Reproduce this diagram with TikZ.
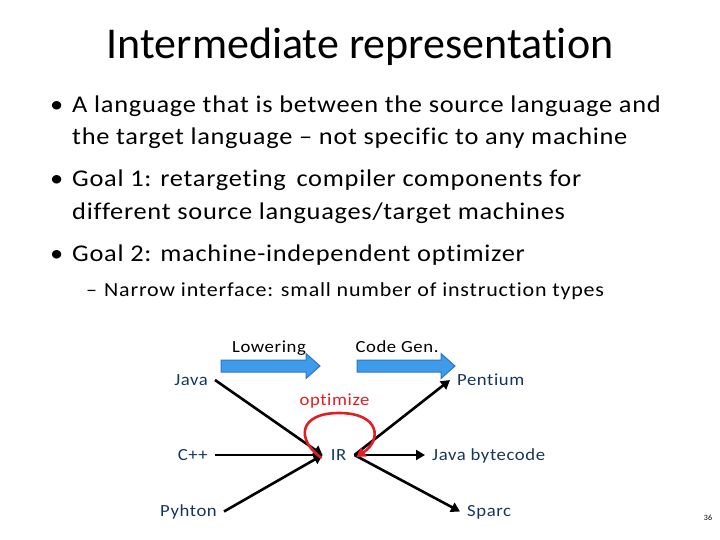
\documentclass[tikz,border=0pt]{standalone}
\usepackage{fontspec}
\setmainfont{Carlito}[Ligatures=NoCommon]
\newfontfamily\fbul{Carlito}[FakeStretch=1.1,LetterSpace=3,Ligatures=NoCommon]
\newfontfamily\fsub{Carlito}[FakeStretch=1.1,LetterSpace=4,Ligatures=NoCommon]
\newfontfamily\flab{Carlito}[FakeStretch=1.1,LetterSpace=3.5,Ligatures=NoCommon]
\usetikzlibrary{arrows.meta}
\definecolor{lbl}{RGB}{23,54,93}
\definecolor{loopred}{RGB}{226,30,36}
\definecolor{arrfill}{RGB}{61,155,233}
\definecolor{arrline}{RGB}{46,117,200}
\begin{document}
\begin{tikzpicture}[x=1pt,y=-1pt,
  bul/.style={anchor=base west,inner sep=0pt,font=\fbul\fontsize{24}{28}\selectfont},
  sub/.style={anchor=base west,inner sep=0pt,font=\fsub\fontsize{20}{24}\selectfont},
  lab/.style={inner ysep=0pt,inner xsep=7pt,text height=10.9pt,text depth=0pt,font=\flab\fontsize{17}{20}\selectfont,text=lbl},
  conn/.style={line width=2.6pt,-{Triangle[length=9pt,width=10pt]}},
  blk/.style={fill=arrfill,draw=arrline,line width=1pt}]
\useasboundingbox (0,0) rectangle (720,540);
\node[font=\fontsize{44}{52}\selectfont] (title) at (360,47) {Intermediate representation};
% bullets
\node[bul] (b1) at (50,113) {•};
\node[bul] (t1) at (72,113) {A language that is between the source language and};
\node[bul] (t1b) at (72,145) {the target language – not specific to any machine};
\node[bul] (b2) at (50,187) {•};
\node[bul] (t2) at (72,187) {Goal 1: retargeting\, compiler components for};
\node[bul] (t2b) at (72,219) {different source languages/target machines};
\node[bul] (b3) at (50,261) {•};
\node[bul] (t3) at (72,261) {Goal 2: machine-independent optimizer};
\node[sub] (d1) at (86,296) {–};
\node[sub] (s1) at (104,296) {Narrow interface: small number of instruction types};
% diagram labels
\node[lab,text=black,anchor=base] (lower) at (269,352) {Lowering};
\node[lab,text=black,anchor=base] (cgen) at (397,352) {Code Gen.};
\node[lab,text=loopred,anchor=base] (opt) at (334.5,405) {optimize};
\node[lab,anchor=east] (java) at (215,380) {Java};
\node[lab,anchor=east] (cpp) at (215,455) {C++};
\node[lab,anchor=east] (py) at (224,511.5) {Pyhton};
\node[lab,inner xsep=8pt] (ir) at (338.5,455) {IR};
\node[lab,anchor=west] (pent) at (450,380) {Pentium};
\node[lab,anchor=west] (jbc) at (425,455) {Java bytecode};
\node[lab,anchor=west] (sparc) at (460,511.5) {Sparc};
\node[font=\fontsize{8}{9}\selectfont,anchor=base] (pg) at (708,520) {36};
% block arrows
\draw[blk] (221,360) -- (306,360) -- (306,353.5) -- (320,366) -- (306,378.5) -- (306,372) -- (221,372) -- cycle;
\draw[blk] (357,360) -- (441,360) -- (441,353.5) -- (455,366) -- (441,378.5) -- (441,372) -- (357,372) -- cycle;
% connectors
\draw[conn] (java.east) -- (ir.west);
\draw[conn] (cpp.east) -- (ir.west);
\draw[conn] (py.east) -- (ir.west);
\draw[conn] (ir.east) -- (pent.west);
\draw[conn] (ir.east) -- (jbc.west);
\draw[conn] (ir.east) -- (sparc.west);
% optimize loop
\draw[loopred,line width=2.6pt,-{Triangle[length=9pt,width=10pt]}]
  ([xshift=-1pt,yshift=-3pt]ir.west) .. controls (296,440) and (298,413) .. (339,413)
  .. controls (380,413) and (382,440) .. ([xshift=2pt,yshift=-2pt]ir.east);
\end{tikzpicture}
\end{document}
